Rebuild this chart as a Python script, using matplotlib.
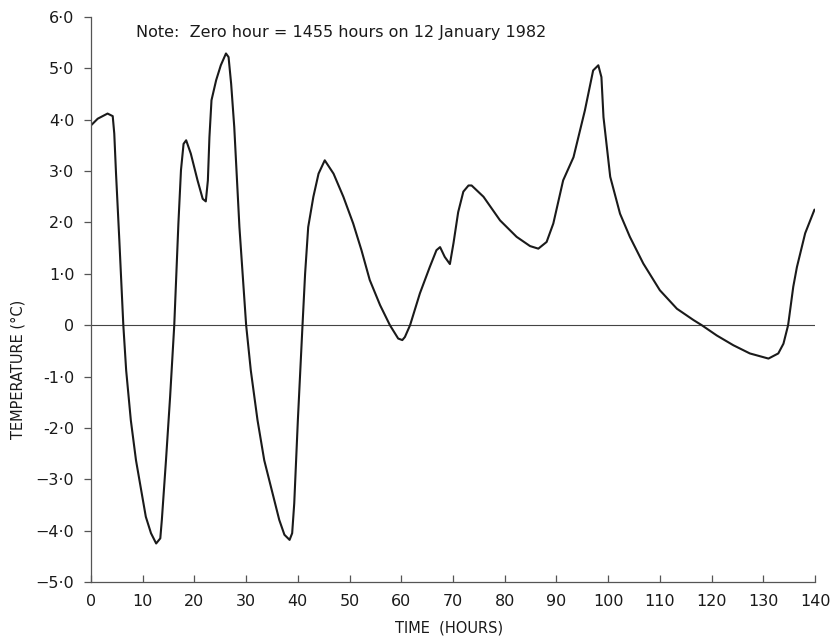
import matplotlib
matplotlib.use("Agg")
import matplotlib.pyplot as plt

# Data (time in hours, temperature in °C)
time_h = [0.0, 1.3, 3.2, 4.2, 4.5, 4.84, 5.48, 6.25, 6.8, 7.7, 8.7, 9.7, 10.6, 11.6, 12.6,
          13.4, 13.7, 14.5, 15.3, 16.1, 16.9, 17.4, 17.9, 18.4, 19.3, 20.6, 21.6, 22.2, 22.6,
          22.9, 23.3, 24.2, 25.1, 26.1, 26.6, 27.1, 27.7, 28.7, 30.0, 30.9, 32.2, 33.5, 35.1,
          36.4, 37.4, 38.4, 38.9, 39.3, 40.0, 40.9, 41.4, 42.0, 43.0, 44.0, 45.2, 46.9, 48.8,
          50.7, 52.3, 53.9, 55.9, 57.8, 59.4, 60.2, 60.7, 61.7, 63.6, 65.5, 66.8, 67.5, 68.4,
          69.4, 70.1, 71.0, 72.0, 73.0, 73.6, 75.9, 79.1, 82.3, 84.9, 86.5, 88.1, 89.4, 91.3,
          93.3, 95.5, 97.1, 98.1, 98.7, 99.1, 100.4, 102.3, 104.2, 106.8, 110.0, 113.3, 116.5,
          118.1, 121.0, 124.2, 127.4, 131.0, 132.9, 133.9, 134.8, 135.8, 136.5, 138.1, 139.9]
temp_c = [3.89, 4.02, 4.12, 4.07, 3.73, 2.95, 1.65, 0.0, -0.88, -1.85, -2.63, -3.21, -3.73,
          -4.05, -4.25, -4.15, -3.79, -2.63, -1.39, 0.0, 1.98, 3.02, 3.53, 3.6, 3.34, 2.82,
          2.46, 2.41, 2.82, 3.66, 4.38, 4.77, 5.06, 5.29, 5.22, 4.70, 3.86, 1.91, 0.0, -0.88,
          -1.85, -2.63, -3.27, -3.79, -4.08, -4.18, -4.05, -3.47, -1.85, 0.0, 1.0, 1.91, 2.5,
          2.95, 3.21, 2.95, 2.5, 1.98, 1.46, 0.88, 0.39, 0.0, -0.26, -0.29, -0.23, 0.0, 0.62,
          1.13, 1.46, 1.52, 1.33, 1.19, 1.6, 2.2, 2.6, 2.72, 2.72, 2.5, 2.04, 1.72, 1.54,
          1.49, 1.62, 1.98, 2.82, 3.27, 4.18, 4.96, 5.06, 4.83, 4.05, 2.89, 2.17, 1.72, 1.2,
          0.68, 0.32, 0.1, 0.0, -0.2, -0.39, -0.55, -0.65, -0.55, -0.36, 0.0, 0.75, 1.13,
          1.79, 2.25]

x_ticks = [0, 10, 20, 30, 40, 50, 60, 70, 80, 90, 100, 110, 120, 130, 140]
y_ticks = [-5, -4, -3, -2, -1, 0, 1, 2, 3, 4, 5, 6]
y_tick_labels = ["\u22125\u00b70", "\u22124\u00b70", "\u22123\u00b70", "-2\u00b70", "-1\u00b70", "0",
                 "1\u00b70", "2\u00b70", "3\u00b70", "4\u00b70", "5\u00b70", "6\u00b70"]
note_text = "Note:  Zero hour = 1455 hours on 12 January 1982"
x_label = "TIME  (HOURS)"
y_label = "TEMPERATURE (\u00b0C)"

ink = "#1a1a1a"
fig = plt.figure(figsize=(8.35, 6.39), dpi=100)
ax = fig.add_axes([91 / 835, 1 - 582 / 639, (815 - 91) / 835, (582 - 17) / 639])

ax.plot(time_h, temp_c, color=ink, lw=1.5, solid_joinstyle="round", solid_capstyle="round")
ax.plot([x_ticks[0], x_ticks[-1]], [0, 0], color="#444444", lw=0.8, zorder=1)

ax.set_xlim(0, 140)
ax.set_ylim(-5, 6)
ax.set_xticks(x_ticks)
ax.set_xticklabels([str(t) for t in x_ticks])
ax.set_yticks(y_ticks)
ax.set_yticklabels(y_tick_labels)

for s in ["top", "right"]:
    ax.spines[s].set_visible(False)
for s in ["left", "bottom"]:
    ax.spines[s].set_color("#555555")
    ax.spines[s].set_linewidth(0.9)

ax.tick_params(axis="y", direction="out", length=5, width=0.9, color="#555555",
               labelsize=11.5, labelcolor=ink, pad=7)
ax.tick_params(axis="x", direction="in", length=5, width=0.9, color="#555555",
               labelsize=11.5, labelcolor=ink, pad=9)

fig.text(136 / 835, 1 - 33 / 639, note_text, fontsize=11.5, color=ink, va="center", ha="left")
fig.text(449 / 835, 1 - 628 / 639, x_label, fontsize=10.5, color=ink, va="center", ha="center")
fig.text(18 / 835, 1 - 369 / 639, y_label, fontsize=10.5, color=ink, va="center", ha="center",
         rotation=90)

fig.savefig("out.png", dpi=100, facecolor="white")
